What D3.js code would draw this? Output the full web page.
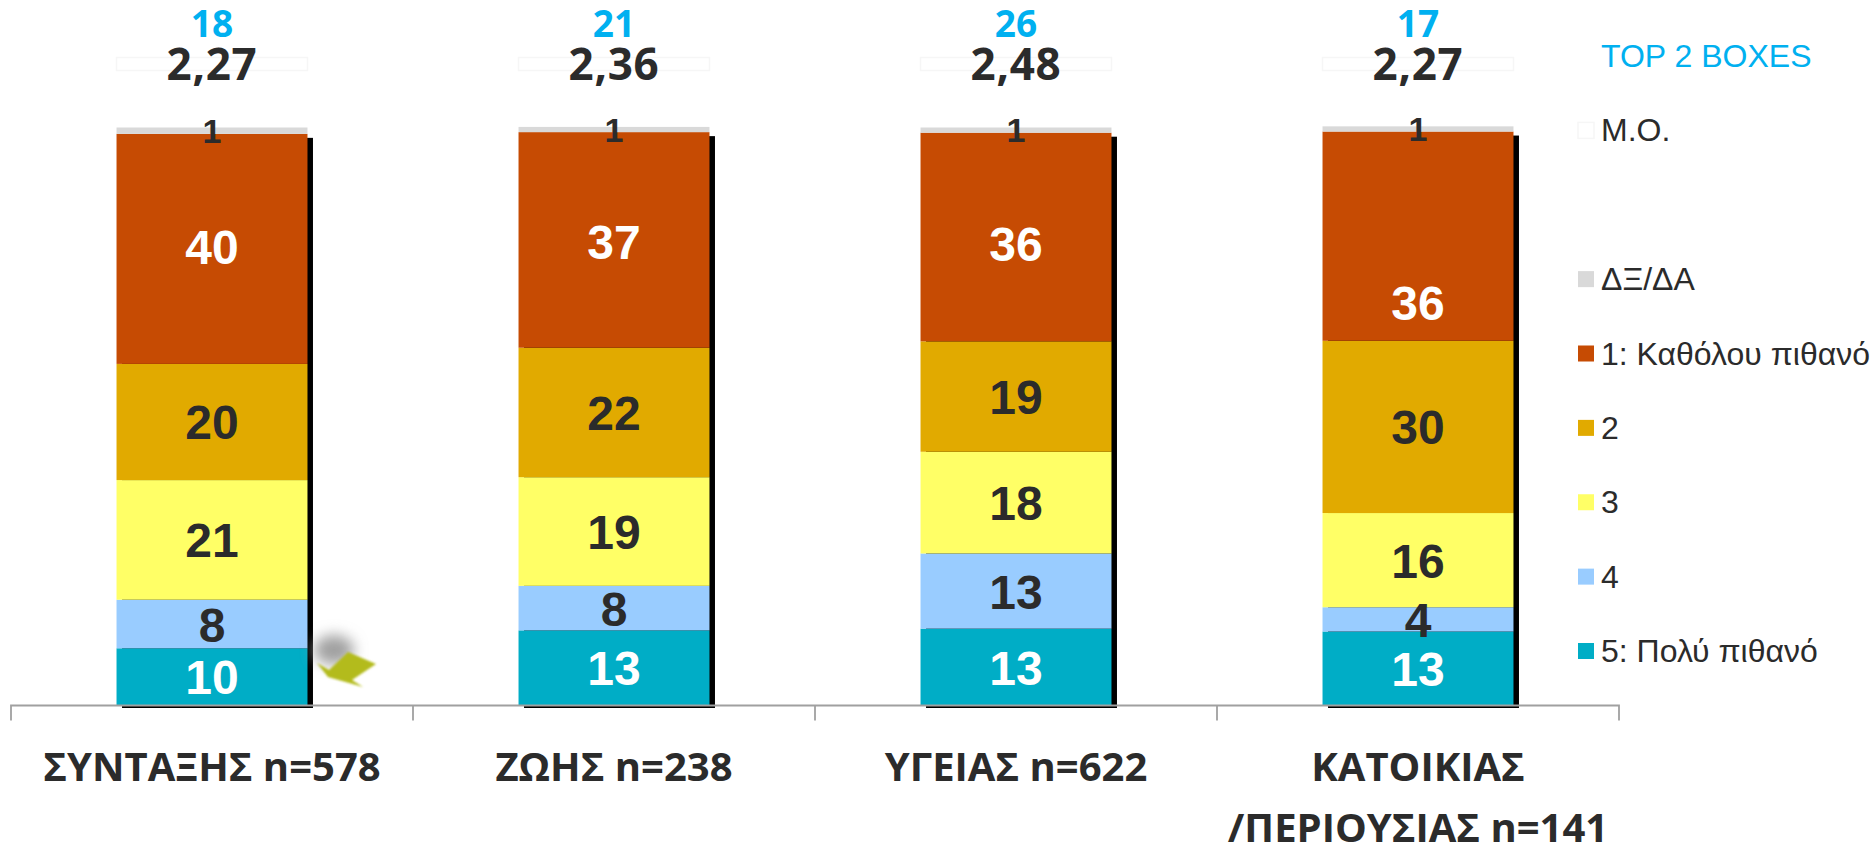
<!DOCTYPE html>
<html>
<head>
<meta charset="utf-8">
<script src="https://cdn.jsdelivr.net/npm/d3@7"></script>
<style>
    html, body { margin: 0; padding: 0; background: #fff; overflow: hidden; }
    svg { display: block; }
    .legend-text { font-family: "Liberation Sans", Arial, sans-serif; font-size: 32px; fill: #2b2b2b; }
    .cat-label { font-family: "Open Sans", sans-serif; font-weight: 700; font-size: 40px; fill: #2b2b2b; }
    .seg-label { font-family: "Liberation Sans", Arial, sans-serif; font-weight: 700; }
    .mean-label { font-family: "Open Sans", sans-serif; font-weight: 700; font-size: 44px; letter-spacing: 0.7px; fill: #2b2b2b; }
    .top-label { font-family: "Open Sans", sans-serif; font-weight: 700; font-size: 37px; fill: #00b0f0; }
</style>
</head>
<body>
<svg id="chart" width="1876" height="846"></svg>
<script>
// categories, each one can wrap on a second line
var categories = ["ΣΥΝΤΑΞΗΣ n=578", "ΖΩΗΣ n=238", "ΥΓΕΙΑΣ n=622", "ΚΑΤΟΙΚΙΑΣ /ΠΕΡΙΟΥΣΙΑΣ n=141"];

// series, bottom to top (the labels show these rounded)
var seriesKeys = ["5: Πολύ πιθανό", "4", "3", "2", "1: Καθόλου πιθανό", "ΔΞ/ΔΑ"];
var polyPithano = [9.9, 13.0, 13.3, 12.8];
var four = [8.4, 7.7, 13.0, 4.2];
var three = [20.7, 18.8, 17.6, 16.3];
var two = [20.1, 22.4, 19.1, 29.8];
var katholou = [39.8, 37.3, 36.1, 36.2];
var dkna = [1.1, 0.9, 0.9, 0.9];

var topBoxes = ["18", "21", "26", "17"];
var means = ["2,27", "2,36", "2,48", "2,27"];

var seriesColors = ["#00adc6", "#99ccff", "#ffff66", "#e1aa00", "#c64b03", "#d9d9d9"];
var axisMax = 100;

// legend rows top to bottom, the empty one is just a gap
var legendRows = ["TOP 2 BOXES", "M.O.", "", "ΔΞ/ΔΑ", "1: Καθόλου πιθανό", "2", "3", "4", "5: Πολύ πιθανό"];

window.onload = function(){
    drawChart();
};

function drawChart(){
    let svg = d3.select("#chart");

    let rows = categories.map(function(c, i){
        return {
            cat: c,
            "5: Πολύ πιθανό": polyPithano[i],
            "4": four[i],
            "3": three[i],
            "2": two[i],
            "1: Καθόλου πιθανό": katholou[i],
            "ΔΞ/ΔΑ": dkna[i]
        };
    });

    let stacked = d3.stack().keys(seriesKeys)(rows);

    let xScale = d3.scaleBand()
        .domain(categories)
        .range([11, 1619])
        .paddingInner(0.525)
        .paddingOuter(0.2625);

    let yScale = d3.scaleLinear()
        .domain([0, axisMax])
        .range([705.5, 127.5]);

    let color = d3.scaleOrdinal().domain(seriesKeys).range(seriesColors);
    let band = xScale.bandwidth();
    let outer = (xScale.step() - band) / 2;

    // black hard shadow behind the bars, stops under the grey cap
    let topCoded = stacked[4];
    svg.append("g").selectAll("rect").data(topCoded)
        .enter()
        .append("rect")
        .attr("x", function(d){ return xScale(d.data.cat) + 5.5; })
        .attr("y", function(d){ return yScale(d[1]) + 4; })
        .attr("width", band)
        .attr("height", function(d){ return yScale(0) + 2.5 - yScale(d[1]) - 4; })
        .attr("fill", "#000");

    // stacked segments
    let layers = svg.append("g").selectAll("g").data(stacked)
        .enter()
        .append("g")
        .attr("fill", function(d){ return color(d.key); });

    layers.selectAll("rect").data(function(d){ return d; })
        .enter()
        .append("rect")
        .attr("x", function(d){ return xScale(d.data.cat); })
        .attr("y", function(d){ return yScale(d[1]); })
        .attr("width", band)
        .attr("height", function(d){ return yScale(d[0]) - yScale(d[1]); });

    // axis line and the separators between categories
    let axis = svg.append("g").attr("transform", "translate(0," + yScale(0) + ")");
    axis.append("path")
        .attr("d", "M" + xScale.range()[0] + ",15V0H" + xScale.range()[1] + "V15")
        .attr("fill", "none")
        .attr("stroke", "#a0a0a0")
        .attr("stroke-width", 1.8);
    axis.selectAll("line").data(categories.slice(1))
        .enter()
        .append("line")
        .attr("x1", function(d){ return xScale(d) - outer; })
        .attr("x2", function(d){ return xScale(d) - outer; })
        .attr("y1", 0)
        .attr("y2", 15)
        .attr("stroke", "#a0a0a0")
        .attr("stroke-width", 1.8);

    // value labels
    let fmt = d3.format(".0f");
    // the top red labels were dragged around by hand in the original
    let katholouNudge = [-2, 2, 6, 66];
    stacked.forEach(function(layer){
        svg.append("g").selectAll("text").data(layer)
            .enter()
            .append("text")
            .attr("class", "seg-label")
            .attr("text-anchor", "middle")
            .attr("dominant-baseline", "central")
            .attr("x", function(d){ return xScale(d.data.cat) + band / 2; })
            .attr("y", function(d, i){
                let mid = (yScale(d[0]) + yScale(d[1])) / 2;
                if(layer.key == "1: Καθόλου πιθανό") mid += katholouNudge[i];
                if(layer.key == "ΔΞ/ΔΑ") mid -= 1;
                return mid + 1;
            })
            .attr("font-size", layer.key == "ΔΞ/ΔΑ" ? 34 : 48)
            .attr("fill", (layer.key == "5: Πολύ πιθανό" || layer.key == "1: Καθόλου πιθανό") ? "#fff" : "#2b2b2b")
            .text(function(d){ return fmt(d[1] - d[0]); });
    });

    // the pale M.O. boxes over the bars
    svg.append("g").selectAll("rect").data(categories)
        .enter()
        .append("rect")
        .attr("x", function(d){ return xScale(d); })
        .attr("y", 57.5)
        .attr("width", band)
        .attr("height", 13)
        .attr("fill", "#fff")
        .attr("stroke", "#f6f6f6")
        .attr("stroke-width", 1.5);

    svg.append("g").selectAll("text").data(means)
        .enter()
        .append("text")
        .attr("class", "mean-label")
        .attr("text-anchor", "middle")
        .attr("x", function(d, i){ return xScale(categories[i]) + band / 2; })
        .attr("y", 80)
        .text(function(d){ return d; });

    svg.append("g").selectAll("text").data(topBoxes)
        .enter()
        .append("text")
        .attr("class", "top-label")
        .attr("text-anchor", "middle")
        .attr("x", function(d, i){ return xScale(categories[i]) + band / 2; })
        .attr("y", 37)
        .text(function(d){ return d; });

    // category labels, last one on two lines
    let catText = svg.append("g").selectAll("text").data(categories)
        .enter()
        .append("text")
        .attr("class", "cat-label")
        .attr("text-anchor", "middle")
        .attr("x", function(d){ return xScale(d) + band / 2; })
        .attr("y", 781);
    catText.each(function(d){
        let parts = d.indexOf(" /") >= 0 ? [d.slice(0, d.indexOf(" /")), d.slice(d.indexOf(" /") + 1)] : [d];
        let el = d3.select(this);
        parts.forEach(function(p, i){
            el.append("tspan")
                .attr("x", xScale(d) + band / 2)
                .attr("dy", i == 0 ? 0 : 61)
                .text(p);
        });
    });

    drawLegend(svg, color);
    drawPointer(svg);
}

function drawLegend(svg, color){
    let yLegend = d3.scalePoint()
        .domain(d3.range(legendRows.length))
        .range([56, 651]);

    let rows = svg.append("g").selectAll("g").data(legendRows)
        .enter()
        .append("g")
        .attr("transform", function(d, i){ return "translate(0," + yLegend(i) + ")"; });

    rows.filter(function(d){ return seriesKeys.indexOf(d) >= 0; })
        .append("rect")
        .attr("x", 1578)
        .attr("y", -8)
        .attr("width", 16)
        .attr("height", 16)
        .attr("fill", function(d){ return color(d); });

    rows.filter(function(d){ return d == "M.O."; })
        .append("rect")
        .attr("x", 1578)
        .attr("y", -8)
        .attr("width", 16)
        .attr("height", 16)
        .attr("fill", "#fff")
        .attr("stroke", "#f6f6f6")
        .attr("stroke-width", 1.5);

    rows.append("text")
        .attr("class", "legend-text")
        .attr("x", 1601)
        .attr("y", 11)
        .style("fill", function(d){ return d == "TOP 2 BOXES" ? "#00b0f0" : null; })
        .text(function(d){ return d; });
}

function drawPointer(svg){
    // stray clip-art arrow next to the first bar
    let defs = svg.append("defs");
    defs.append("filter").attr("id", "soft")
        .attr("x", "-100%").attr("y", "-100%").attr("width", "300%").attr("height", "300%")
        .append("feGaussianBlur").attr("stdDeviation", 7);
    defs.append("filter").attr("id", "soft2").append("feGaussianBlur").attr("stdDeviation", 0.8);

    svg.append("ellipse")
        .attr("cx", 334)
        .attr("cy", 650)
        .attr("rx", 20)
        .attr("ry", 15)
        .attr("fill", "#a0a0a0")
        .attr("filter", "url(#soft)");

    svg.append("polygon")
        .attr("points", "317,663 329,670 348,652 376,664 352,680 363,687 328,677")
        .attr("fill", "#b3bb1a")
        .attr("filter", "url(#soft2)");
}
</script>
</body>
</html>
